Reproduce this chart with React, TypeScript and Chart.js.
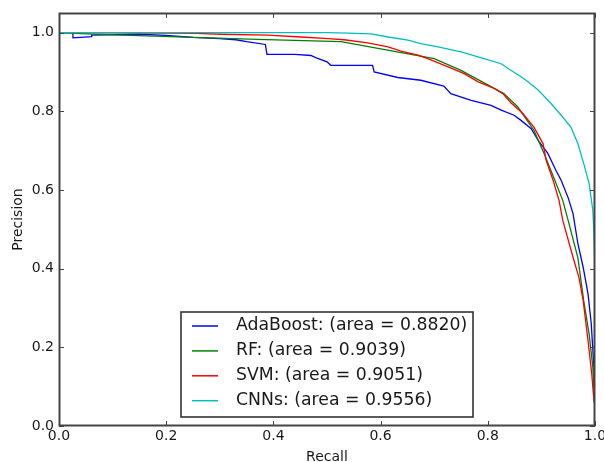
import { useEffect, useRef } from 'react';
import { Chart, registerables } from 'chart.js';

Chart.register(...registerables);

const adaRecall = [0, 0.026, 0.026, 0.061, 0.061, 0.15, 0.2, 0.25, 0.3, 0.33, 0.35, 0.385, 0.388, 0.44, 0.47, 0.48, 0.5, 0.507, 0.585, 0.588, 0.632, 0.675, 0.718, 0.731, 0.769, 0.806, 0.825, 0.849, 0.862, 0.881, 0.894, 0.912, 0.927, 0.937, 0.95, 0.959, 0.968, 0.978, 0.987, 0.993, 0.998, 1.0];
const adaPrecision = [1.0, 1.0, 0.987, 0.99, 0.994, 0.996, 0.993, 0.988, 0.985, 0.982, 0.977, 0.97, 0.945, 0.945, 0.942, 0.936, 0.926, 0.917, 0.917, 0.9, 0.886, 0.879, 0.864, 0.845, 0.828, 0.815, 0.803, 0.79, 0.777, 0.756, 0.726, 0.693, 0.65, 0.624, 0.58, 0.54, 0.464, 0.403, 0.336, 0.26, 0.148, 0.06];

const rfRecall = [0, 0.05, 0.12, 0.25, 0.37, 0.526, 0.7, 0.75, 0.83, 0.856, 0.886, 0.905, 0.923, 0.94, 0.95, 0.968, 0.979, 0.989, 0.996, 1.0];
const rfPrecision = [1.0, 0.997, 0.994, 0.988, 0.983, 0.977, 0.934, 0.904, 0.845, 0.811, 0.752, 0.693, 0.632, 0.573, 0.522, 0.428, 0.318, 0.234, 0.149, 0.038];

const svmRecall = [0, 0.2, 0.256, 0.3, 0.39, 0.451, 0.502, 0.532, 0.576, 0.614, 0.638, 0.67, 0.688, 0.726, 0.756, 0.782, 0.812, 0.828, 0.843, 0.865, 0.886, 0.903, 0.909, 0.922, 0.933, 0.94, 0.959, 0.97, 0.978, 0.987, 0.994, 0.998, 1.0];
const svmPrecision = [1.0, 0.999, 0.998, 0.996, 0.994, 0.989, 0.985, 0.982, 0.974, 0.964, 0.953, 0.943, 0.934, 0.913, 0.896, 0.875, 0.858, 0.845, 0.822, 0.795, 0.76, 0.718, 0.675, 0.624, 0.573, 0.522, 0.429, 0.378, 0.318, 0.217, 0.132, 0.064, 0.055];

const cnnRecall = [0, 0.5, 0.539, 0.582, 0.614, 0.651, 0.675, 0.707, 0.75, 0.793, 0.825, 0.838, 0.862, 0.875, 0.894, 0.918, 0.937, 0.955, 0.968, 0.979, 0.989, 0.996, 0.998, 1.0];
const cnnPrecision = [1.0, 1.0, 0.999, 0.997, 0.989, 0.981, 0.972, 0.964, 0.951, 0.934, 0.921, 0.909, 0.888, 0.875, 0.854, 0.82, 0.79, 0.76, 0.718, 0.667, 0.616, 0.548, 0.489, 0.4];

const seriesLabels = ['AdaBoost: (area = 0.8820)', 'RF: (area = 0.9039)', 'SVM: (area = 0.9051)', 'CNNs: (area = 0.9556)'];
const xTickValues = [0, 0.2, 0.4, 0.6, 0.8, 1.0];
const yTickValues = [0, 0.2, 0.4, 0.6, 0.8, 1.0];

const FONT = "'DejaVu Sans', sans-serif";
const AXIS = '#444444';
const TEXT = '#1a1a1a';

const toPoints = (xs: number[], ys: number[]) => xs.map((x, i) => ({ x, y: ys[i] }));

const framePlugin = {
  id: 'mplFrame',
  afterDraw(chart: any) {
    const { ctx, chartArea: a, scales } = chart;
    ctx.save();
    ctx.strokeStyle = AXIS;
    ctx.lineWidth = 1;
    const tl = 5;
    ctx.beginPath();
    scales.x.ticks.forEach((t: any) => {
      const px = Math.round(scales.x.getPixelForValue(t.value)) + 0.5;
      ctx.moveTo(px, a.bottom);
      ctx.lineTo(px, a.bottom - tl);
      ctx.moveTo(px, a.top);
      ctx.lineTo(px, a.top + tl);
    });
    scales.y.ticks.forEach((t: any) => {
      const py = Math.round(scales.y.getPixelForValue(t.value)) + 0.5;
      ctx.moveTo(a.left, py);
      ctx.lineTo(a.left + tl, py);
      ctx.moveTo(a.right, py);
      ctx.lineTo(a.right - tl, py);
    });
    ctx.stroke();
    ctx.lineWidth = 2;
    ctx.strokeRect(a.left + 0.5, a.top + 0.5, a.right - a.left - 1, a.bottom - a.top - 1);

    const boxL = 181, boxT = 312, boxR = 473, boxB = 417;
    ctx.fillStyle = '#ffffff';
    ctx.fillRect(boxL, boxT, boxR - boxL, boxB - boxT);
    ctx.lineWidth = 1.6;
    ctx.strokeStyle = '#333333';
    ctx.strokeRect(boxL, boxT, boxR - boxL, boxB - boxT);
    ctx.font = `17.3px ${FONT}`;
    ctx.textBaseline = 'middle';
    ctx.textAlign = 'left';
    chart.data.datasets.forEach((ds: any, i: number) => {
      const cy = 326 + i * 24.9;
      ctx.strokeStyle = ds.borderColor;
      ctx.lineWidth = 1.5;
      ctx.beginPath();
      ctx.moveTo(192, cy);
      ctx.lineTo(218, cy);
      ctx.stroke();
      ctx.fillStyle = TEXT;
      ctx.fillText(ds.label, 236, cy);
    });
    ctx.restore();
  },
};

export default function App() {
  const ref = useRef<HTMLCanvasElement>(null);

  useEffect(() => {
    if (!ref.current) return;
    const lineDs = (label: string, xs: number[], ys: number[], color: string, order: number) => ({
      label,
      data: toPoints(xs, ys),
      borderColor: color,
      backgroundColor: color,
      borderWidth: 1.3,
      pointRadius: 0,
      fill: false,
      tension: 0,
      order,
    });
    const chart = new Chart(ref.current, {
      type: 'line',
      data: {
        datasets: [
          lineDs(seriesLabels[0], adaRecall, adaPrecision, '#0000ff', 4),
          lineDs(seriesLabels[1], rfRecall, rfPrecision, '#008000', 3),
          lineDs(seriesLabels[2], svmRecall, svmPrecision, '#ff0000', 2),
          lineDs(seriesLabels[3], cnnRecall, cnnPrecision, '#00bfbf', 1),
        ],
      },
      options: {
        animation: false,
        responsive: false,
        devicePixelRatio: 1,
        layout: { padding: { left: 0, top: 13, right: 9, bottom: 0 } },
        plugins: { legend: { display: false }, tooltip: { enabled: false } },
        scales: {
          x: {
            type: 'linear',
            min: 0,
            max: 1,
            grid: { display: false, drawTicks: false },
            border: { display: false },
            afterBuildTicks: (s: any) => { s.ticks = xTickValues.map((v) => ({ value: v })); },
            afterFit: (s: any) => { s.height = 36; s.paddingLeft = 0; s.paddingRight = 0; },
            ticks: {
              padding: 2,
              color: TEXT,
              maxRotation: 0,
              autoSkip: false,
              font: { family: FONT, size: 14 },
              callback: (v: any) => Number(v).toFixed(1),
            },
            title: {
              display: true,
              text: 'Recall',
              color: TEXT,
              font: { family: FONT, size: 14, lineHeight: 0.7 },
              padding: { top: 0, bottom: 0 },
            },
          },
          y: {
            type: 'linear',
            min: 0,
            max: 1.05,
            grid: { display: false, drawTicks: false },
            border: { display: false },
            afterBuildTicks: (s: any) => { s.ticks = yTickValues.map((v) => ({ value: v })); },
            afterFit: (s: any) => { s.width = 59; s.paddingTop = 0; s.paddingBottom = 0; },
            ticks: {
              padding: 5,
              color: TEXT,
              autoSkip: false,
              font: { family: FONT, size: 14 },
              callback: (v: any) => Number(v).toFixed(1),
            },
            title: {
              display: true,
              text: 'Precision',
              color: TEXT,
              font: { family: FONT, size: 14, lineHeight: 1.2 },
              padding: { top: 9.6, bottom: 0 },
            },
          },
        },
      },
      plugins: [framePlugin],
    } as any);
    return () => chart.destroy();
  }, []);

  return (
    <div style={{ position: 'fixed', left: 0, top: 0, width: 604, height: 462, background: '#ffffff' }}>
      <canvas ref={ref} width={604} height={462} style={{ display: 'block', width: 604, height: 462 }} />
    </div>
  );
}
